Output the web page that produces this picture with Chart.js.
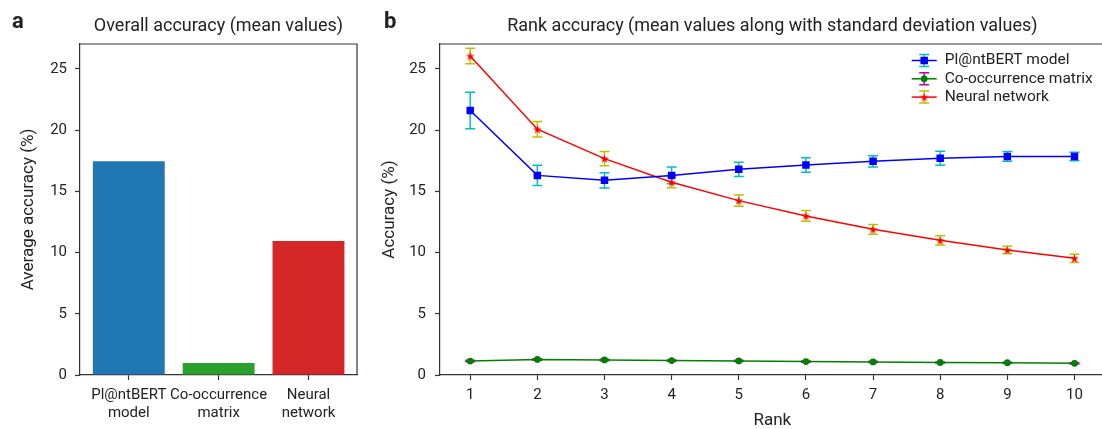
<!DOCTYPE html>
<html>
<head>
<meta charset="utf-8">
<script src="https://cdn.jsdelivr.net/npm/chart.js@4.4.1/dist/chart.umd.min.js"></script>
<style>
html, body { margin: 0; padding: 0; background: #fff; overflow: hidden; width: 1102px; height: 429px; }
#boxA { position: absolute; left: 0; top: 0; width: 380px; height: 429px; }
#boxB { position: absolute; left: 370px; top: 0; width: 740px; height: 429px; }
</style>
</head>
<body>
<div id="boxA"><canvas id="overallChart"></canvas></div>
<div id="boxB"><canvas id="rankChart"></canvas></div>
<script>
// Panel a: overall accuracy
const methods = [['Pl@ntBERT', 'model'], ['Co-occurrence', 'matrix'], ['Neural', 'network']];
const methodPos = [0, 1, 2];
const overallMean = [17.45, 0.98, 10.95];
const barColors = ['#1f77b4', '#2ca02c', '#d62728'];

// Panel b: rank accuracy, mean and standard deviation
const ranks = [1, 2, 3, 4, 5, 6, 7, 8, 9, 10];
const bertMean = [21.6, 16.3, 15.9, 16.3, 16.8, 17.15, 17.45, 17.7, 17.85, 17.85];
const bertStd = [1.5, 0.83, 0.62, 0.68, 0.58, 0.6, 0.46, 0.57, 0.4, 0.35];
const coocMean = [1.14, 1.27, 1.23, 1.18, 1.15, 1.1, 1.07, 1.02, 1.0, 0.95];
const coocStd = [0.06, 0.06, 0.06, 0.05, 0.05, 0.05, 0.05, 0.05, 0.05, 0.05];
const nnMean = [26.05, 20.07, 17.67, 15.74, 14.24, 12.99, 11.9, 11.0, 10.21, 9.53];
const nnStd = [0.63, 0.64, 0.58, 0.45, 0.45, 0.44, 0.4, 0.38, 0.3, 0.34];
const yTicks = [0, 5, 10, 15, 20, 25];

Chart.defaults.font.family = 'Roboto';
Chart.defaults.color = '#222';
const axisColor = '#333';

function starImage(size, color) {
    const c = document.createElement('canvas');
    c.width = c.height = size;
    const g = c.getContext('2d');
    g.fillStyle = color;
    g.beginPath();
    for (let k = 0; k < 10; k++) {
        const r = k % 2 ? size * 0.2 : size / 2;
        const a = -Math.PI / 2 + k * Math.PI / 5;
        g.lineTo(size / 2 + r * Math.cos(a), size / 2 + r * Math.sin(a) + 0.5);
    }
    g.closePath();
    g.fill();
    return c;
}

// title, panel letter and the top/right frame lines
const frame = {
    id: 'frame',
    afterDraw(chart, args, opts) {
        const { ctx, chartArea: a } = chart;
        ctx.save();
        ctx.strokeStyle = axisColor;
        ctx.lineWidth = 1.2;
        ctx.beginPath();
        ctx.moveTo(a.left, a.top);
        ctx.lineTo(a.right, a.top);
        if (opts.right) ctx.lineTo(a.right, a.bottom);
        ctx.stroke();
        ctx.fillStyle = '#222';
        ctx.textBaseline = 'middle';
        ctx.textAlign = 'center';
        ctx.font = '18px Roboto';
        ctx.fillText(opts.title, (a.left + a.right) / 2, 26);
        ctx.textAlign = 'left';
        ctx.font = 'bold 22px Roboto';
        ctx.fillText(opts.letter, opts.letterX, 22);
        ctx.restore();
    }
};

const errorBars = {
    id: 'errorBars',
    beforeDatasetsDraw(chart) {
        const { ctx, scales: { x, y } } = chart;
        chart.data.datasets.forEach(ds => {
            ctx.save();
            ctx.strokeStyle = ds.errorColor;
            ctx.lineWidth = 1.5;
            ds.data.forEach((p, j) => {
                const px = x.getPixelForValue(p.x);
                const top = y.getPixelForValue(p.y + ds.errors[j]);
                const bot = y.getPixelForValue(p.y - ds.errors[j]);
                ctx.beginPath();
                ctx.moveTo(px, top); ctx.lineTo(px, bot);
                ctx.moveTo(px - 5, top); ctx.lineTo(px + 5, top);
                ctx.moveTo(px - 5, bot); ctx.lineTo(px + 5, bot);
                ctx.stroke();
            });
            ctx.restore();
        });
    }
};

const insideLegend = {
    id: 'insideLegend',
    afterDraw(chart) {
        const { ctx, chartArea: a } = chart;
        const x0 = a.right - 193, x1 = a.right - 168, xm = (x0 + x1) / 2;
        chart.data.datasets.forEach((ds, i) => {
            const yy = 60.5 + i * 18.3;
            ctx.save();
            ctx.strokeStyle = ds.errorColor;
            ctx.lineWidth = 1.5;
            ctx.beginPath();
            ctx.moveTo(xm, yy - 6); ctx.lineTo(xm, yy + 6);
            ctx.moveTo(xm - 5, yy - 6); ctx.lineTo(xm + 5, yy - 6);
            ctx.moveTo(xm - 5, yy + 6); ctx.lineTo(xm + 5, yy + 6);
            ctx.stroke();
            ctx.strokeStyle = ds.borderColor;
            ctx.beginPath();
            ctx.moveTo(x0, yy); ctx.lineTo(x1, yy);
            ctx.stroke();
            ctx.fillStyle = ds.pointBackgroundColor;
            ctx.strokeStyle = ds.pointBorderColor;
            Chart.helpers.drawPoint(ctx, { pointStyle: ds.pointStyle, radius: ds.pointRadius, borderWidth: 0 }, xm, yy);
            ctx.fillStyle = '#222';
            ctx.font = '15.5px Roboto';
            ctx.textBaseline = 'middle';
            ctx.fillText(ds.label, a.right - 160, yy);
            ctx.restore();
        });
    }
};

function yAxis(width, pad, title, titlePad) {
    return {
        min: 0, max: 27.03,
        afterFit: s => { s.width = width; },
        afterBuildTicks: s => { s.ticks = yTicks.map(v => ({ value: v })); },
        grid: { drawOnChartArea: false, tickLength: 5, color: axisColor, tickWidth: 1.2 },
        border: { color: axisColor, width: 1.2 },
        ticks: { padding: pad, font: { size: 15 }, color: '#222' },
        title: { display: true, text: title, font: { size: 17 }, padding: { top: titlePad, bottom: 0 }, color: '#222' }
    };
}

new Chart(document.getElementById('overallChart'), {
    type: 'bar',
    data: {
        datasets: [{
            data: methodPos.map((p, i) => ({ x: p, y: overallMean[i] })),
            backgroundColor: barColors,
            categoryPercentage: 0.8,
            barPercentage: 1
        }]
    },
    options: {
        responsive: true, maintainAspectRatio: false, animation: false,
        layout: { padding: { top: 44, right: 23, left: 0, bottom: 0 } },
        plugins: {
            legend: { display: false }, tooltip: { enabled: false },
            frame: { title: 'Overall accuracy (mean values)', letter: 'a', letterX: 12, right: true }
        },
        scales: {
            x: {
                type: 'linear', min: -0.543, max: 2.54, offset: false,
                afterFit: s => { s.height = 54; },
                afterBuildTicks: s => { s.ticks = methodPos.map(v => ({ value: v })); },
                grid: { drawOnChartArea: false, offset: false, tickLength: 5, color: axisColor, tickWidth: 1.2 },
                border: { color: axisColor, width: 1.2 },
                ticks: { autoSkip: false, maxRotation: 0, padding: 6, font: { size: 15, lineHeight: 1.2 }, color: '#222',
                    callback: (v, i) => methods[i] }
            },
            y: yAxis(80, 8, 'Average accuracy (%)', 19)
        }
    },
    plugins: [frame]
});

new Chart(document.getElementById('rankChart'), {
    type: 'line',
    data: {
        datasets: [{
            label: 'Pl@ntBERT model',
            data: ranks.map((r, i) => ({ x: r, y: bertMean[i] })),
            errors: bertStd, errorColor: '#00bfbf',
            borderColor: '#0000ff', borderWidth: 1.5,
            pointStyle: 'rect', pointRadius: 5.3,
            pointBackgroundColor: '#0000ff', pointBorderColor: '#0000ff', pointBorderWidth: 0
        }, {
            label: 'Co-occurrence matrix',
            data: ranks.map((r, i) => ({ x: r, y: coocMean[i] })),
            errors: coocStd, errorColor: '#bf00bf',
            borderColor: '#008000', borderWidth: 1.5,
            pointStyle: 'circle', pointRadius: 3.4,
            pointBackgroundColor: '#008000', pointBorderColor: '#008000', pointBorderWidth: 0
        }, {
            label: 'Neural network',
            data: ranks.map((r, i) => ({ x: r, y: nnMean[i] })),
            errors: nnStd, errorColor: '#bfbf00',
            borderColor: '#ff0000', borderWidth: 1.5,
            pointStyle: starImage(9, '#ff0000'), pointRadius: 4,
            pointBackgroundColor: '#ff0000', pointBorderColor: '#ff0000', pointBorderWidth: 0
        }]
    },
    options: {
        responsive: true, maintainAspectRatio: false, animation: false,
        layout: { padding: { top: 44, right: 4, left: 0, bottom: 0 } },
        plugins: {
            legend: { display: false }, tooltip: { enabled: false },
            frame: { title: 'Rank accuracy (mean values along with standard deviation values)', letter: 'b', letterX: 14, right: false }
        },
        scales: {
            x: {
                type: 'linear', min: 0.55, max: 10.45,
                afterFit: s => { s.height = 54; },
                afterBuildTicks: s => { s.ticks = ranks.map(v => ({ value: v })); },
                grid: { drawOnChartArea: false, tickLength: 5, color: axisColor, tickWidth: 1.2 },
                border: { color: axisColor, width: 1.2 },
                ticks: { autoSkip: false, maxRotation: 0, padding: 6, font: { size: 15 }, color: '#222' },
                title: { display: true, text: 'Rank', font: { size: 17 }, padding: { top: 0, bottom: -2 }, color: '#222' }
            },
            y: yAxis(70, 9, 'Accuracy (%)', 10)
        }
    },
    plugins: [errorBars, insideLegend, frame]
});
</script>
</body>
</html>
